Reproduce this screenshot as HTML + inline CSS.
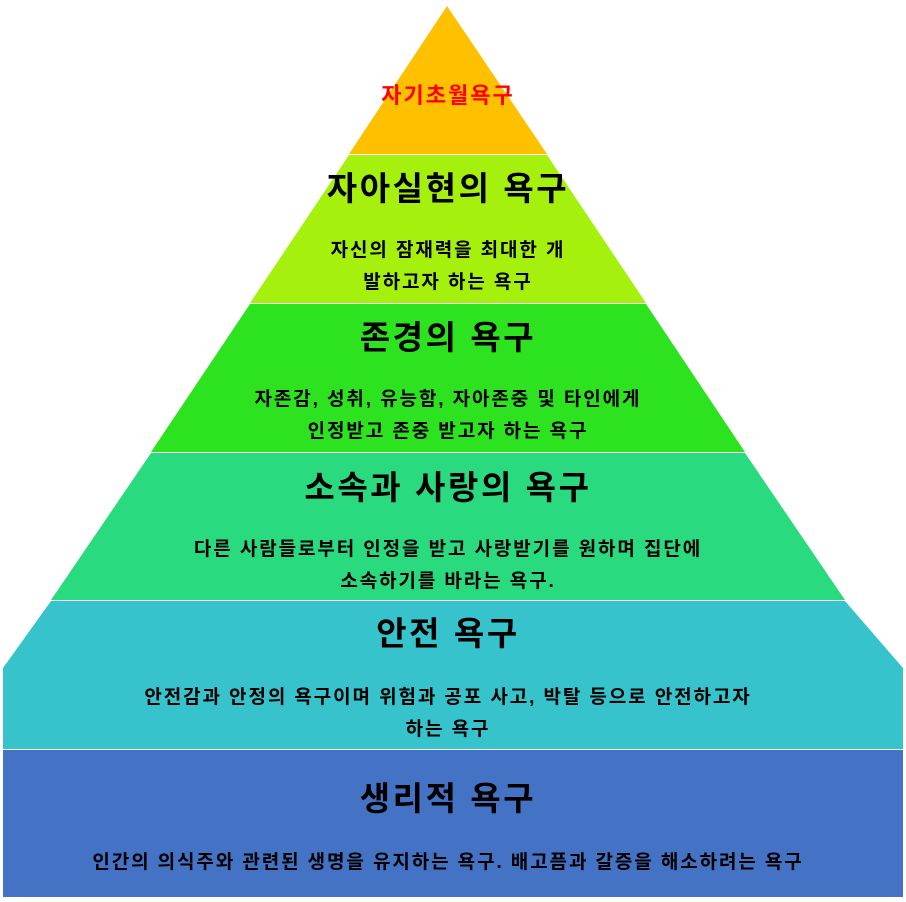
<!DOCTYPE html>
<html><head><meta charset="utf-8"><style>
html,body{margin:0;padding:0;background:#fff;}
svg{display:block;}
text{font-family:"Liberation Sans","Noto Sans CJK KR",sans-serif;font-weight:bold;text-anchor:middle;fill:#000;}
.t{font-size:33px;letter-spacing:2.6px;}
.b{font-size:19px;letter-spacing:1.9px;}
</style></head><body>
<svg width="906" height="902" viewBox="0 0 906 902" xmlns="http://www.w3.org/2000/svg">
<polygon points="447,6 547,154 349,154" fill="#FFC000"/>
<polygon points="349,155 547,155 646,303 250,303" fill="#A6F00E"/>
<polygon points="250,304 646,304 745,452 151,452" fill="#2DE21F"/>
<polygon points="151,453 745,453 845,600 51,600" fill="#2ADA7E"/>
<polygon points="51,601 845,601 903,668 903,749 3,749 3,668" fill="#36C3CB"/>
<rect x="3" y="750" width="900" height="147" fill="#4472C4"/>
<text x="448" y="103" style="font-size:22px;letter-spacing:2px;fill:#FF0000">자기초월욕구</text>
<text class="t" x="448" y="200">자아실현의 욕구</text>
<text class="b" x="448" y="256">자신의 잠재력을 최대한 개</text>
<text class="b" x="448" y="288">발하고자 하는 욕구</text>
<text class="t" x="448" y="349">존경의 욕구</text>
<text class="b" x="448" y="405">자존감, 성취, 유능함, 자아존중 및 타인에게</text>
<text class="b" x="448" y="437">인정받고 존중 받고자 하는 욕구</text>
<text class="t" x="448" y="499">소속과 사랑의 욕구</text>
<text class="b" x="448" y="555">다른 사람들로부터 인정을 받고 사랑받기를 원하며 집단에</text>
<text class="b" x="448" y="587">소속하기를 바라는 욕구.</text>
<text class="t" x="448" y="645">안전 욕구</text>
<text class="b" x="448" y="703">안전감과 안정의 욕구이며 위험과 공포 사고, 박탈 등으로 안전하고자</text>
<text class="b" x="448" y="735">하는 욕구</text>
<text class="t" x="448" y="810">생리적 욕구</text>
<text class="b" x="448" y="868">인간의 의식주와 관련된 생명을 유지하는 욕구. 배고픔과 갈증을 해소하려는 욕구</text>
</svg>
</body></html>
